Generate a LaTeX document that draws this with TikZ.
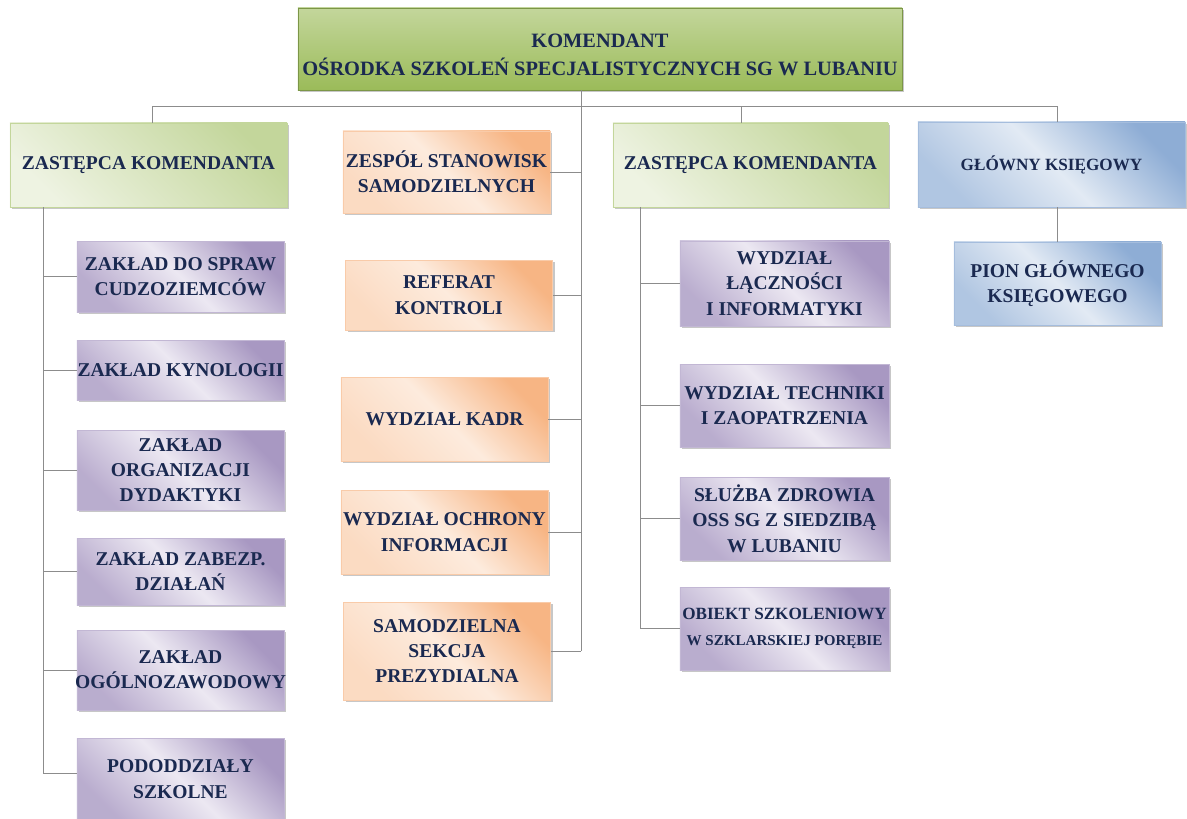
\documentclass[tikz,border=0pt]{standalone}
\usepackage{fontspec}
\setmainfont{Liberation Serif}
\usetikzlibrary{positioning, shadows, calc}

\definecolor{navy}{HTML}{1A2950}
\definecolor{linkgray}{HTML}{8C8C8C}
\definecolor{grDark}{HTML}{9BBB59}
\definecolor{grMid}{HTML}{C3D69B}
\definecolor{grLight}{HTML}{EEF3E2}
\definecolor{vioDark}{HTML}{A898C2}
\definecolor{vioLight}{HTML}{ECE8F2}
\definecolor{orDark}{HTML}{F7B584}
\definecolor{orLight}{HTML}{FDEBDD}
\definecolor{blDark}{HTML}{8EADD5}
\definecolor{blLight}{HTML}{E2EAF4}

\begin{document}
\begin{tikzpicture}[
  x=0.025cm,
  y=-0.025cm,
  font=\bfseries\fontsize{13.9}{18}\selectfont
]
\tikzstyle{box}=[draw, line width=0.4pt, align=center, text=navy, inner sep=1pt,
  drop shadow={shadow xshift=1.6pt, shadow yshift=-1.6pt, fill=black!40, opacity=0.55}]
\tikzstyle{topbox}=[box, draw=grDark!80!black, top color=grMid, bottom color=grDark, minimum width=15.1cm, minimum height=2.05cm]
\tikzstyle{greenbox}=[box, draw=grMid, top color=grMid, bottom color=grLight, shading angle=-45]
\tikzstyle{violetbox}=[box, draw=vioDark!70, top color=vioDark, bottom color=vioDark!80, middle color=vioLight, shading angle=-45, minimum width=5.175cm]
\tikzstyle{orangebox}=[box, draw=orDark!70, top color=orDark, bottom color=orLight!70!orDark, middle color=orLight, shading angle=-45, minimum width=5.175cm]
\tikzstyle{bluebox}=[box, draw=blDark!80, top color=blDark, bottom color=blDark!70, middle color=blLight, shading angle=-45]
\tikzstyle{link}=[draw=linkgray, line width=0.7pt]

\useasboundingbox (0,0) rectangle (1187,818);

% ================= TOP =================
\node[topbox, font=\bfseries\fontsize{14.5}{20}\selectfont] (kom) at (600,49) {\rule{0pt}{18pt}KOMENDANT\\ OŚRODKA SZKOLEŃ SPECJALISTYCZNYCH SG W LUBANIU};

% ================= SECOND LEVEL =================
\node[greenbox, minimum width=6.925cm, minimum height=2.1cm] (zk1) at (148.5,165) {ZASTĘPCA KOMENDANTA};
\node[greenbox, minimum width=6.875cm, minimum height=2.1cm] (zk2) at (750.5,165) {ZASTĘPCA KOMENDANTA};
\node[bluebox, minimum width=6.675cm, minimum height=2.125cm, font=\bfseries\fontsize{12.2}{15}\selectfont] (gk) at (1051.5,164.5) {GŁÓWNY KSIĘGOWY};
\node[bluebox, minimum width=5.175cm, minimum height=2.075cm] (pion) at (1057.5,283.5) {PION GŁÓWNEGO\\ KSIĘGOWEGO};

% ================= LEFT COLUMN =================
\node[violetbox, minimum height=1.775cm] (zc)  at (180.5,276.5) {ZAKŁAD DO SPRAW\\ CUDZOZIEMCÓW};
\node[violetbox, minimum height=1.5cm]   (zkn) at (180.5,370)   {\makebox[0pt]{ZAKŁAD KYNOLOGII}};
\node[violetbox, minimum height=2cm]     (zo)  at (180.5,470)   {ZAKŁAD\\ ORGANIZACJI\\ DYDAKTYKI};
\node[violetbox, minimum height=1.675cm] (zz)  at (180.5,571.5) {ZAKŁAD ZABEZP.\\ DZIAŁAŃ};
\node[violetbox, minimum height=2cm]     (zog) at (180.5,670)   {ZAKŁAD\\ \makebox[0pt]{OGÓLNOZAWODOWY}};
\node[violetbox, minimum height=2.05cm]  (pod) at (180.5,779)   {PODODDZIAŁY\\ SZKOLNE};

% ================= CENTRE COLUMN =================
\node[orangebox, minimum height=2.05cm] (zs) at (446.5,172) {ZESPÓŁ STANOWISK\\ SAMODZIELNYCH};
\node[orangebox, minimum height=1.75cm] (rk) at (449,295)   {REFERAT\\ KONTROLI};
\node[orangebox, minimum height=2.1cm]  (wk) at (444.5,419) {WYDZIAŁ KADR};
\node[orangebox, minimum height=2.1cm]  (wo) at (444.5,532) {\makebox[0pt]{WYDZIAŁ OCHRONY}\\ INFORMACJI};
\node[orangebox, minimum height=2.45cm] (ss) at (447,651)   {SAMODZIELNA\\ SEKCJA\\ PREZYDIALNA};

% ================= RIGHT COLUMN =================
\node[violetbox, minimum width=5.225cm, minimum height=2.125cm] (wl) at (784.5,283.5) {WYDZIAŁ\\ ŁĄCZNOŚCI\\ I INFORMATYKI};
\node[violetbox, minimum width=5.225cm, minimum height=2.075cm] (wt) at (784.5,405.5) {\makebox[0pt]{WYDZIAŁ TECHNIKI}\\ I ZAOPATRZENIA};
\node[violetbox, minimum width=5.225cm, minimum height=2.075cm] (sz) at (784.5,518.5) {SŁUŻBA ZDROWIA\\ OSS SG Z SIEDZIBĄ\\ W LUBANIU};
\node[violetbox, minimum width=5.225cm, minimum height=2.075cm] (ob) at (784.5,628.5) {\fontsize{12.2}{15}\selectfont \makebox[0pt]{OBIEKT SZKOLENIOWY}\\ \fontsize{10.7}{13}\selectfont W SZKLARSKIEJ PORĘBIE};

% ===== Spines and drops =====
\coordinate (d1) at (152,106);
\coordinate (d2) at (741,106);
\coordinate (d4) at (1057,106);
\coordinate (csp) at (581,106);
\coordinate (lsp) at (43,0);
\coordinate (rsp) at (640,0);

\draw[link] (d1) -- (d4);
\foreach \d/\n in {d1/zk1, d2/zk2, d4/gk}
  \draw[link] (\d) -- (\d |- \n.north);
\draw[link] (d4 |- gk.south) -- (d4 |- pion.north);

% ===== Centre branches =====
\draw[link] (csp |- kom.south) -- (csp |- ss.east);
\foreach \n in {zs, rk, wk, wo, ss}
  \draw[link] (\n.east) -- (\n.east -| csp);

% ===== Left branches =====
\draw[link] (lsp |- zk1.south) -- ($(lsp |- pod.west)+(0,-6)$);
\foreach \n in {zc, zkn, zo, zz, zog}
  \draw[link] (lsp |- \n.west) -- (\n.west);
\draw[link] ($(lsp |- pod.west)+(0,-6)$) -- ($(pod.west)+(0,-6)$);

% ===== Right branches =====
\draw[link] (rsp |- zk2.south) -- (rsp |- ob.west);
\foreach \n in {wl, wt, sz, ob}
  \draw[link] (rsp |- \n.west) -- (\n.west);
\end{tikzpicture}
\end{document}
